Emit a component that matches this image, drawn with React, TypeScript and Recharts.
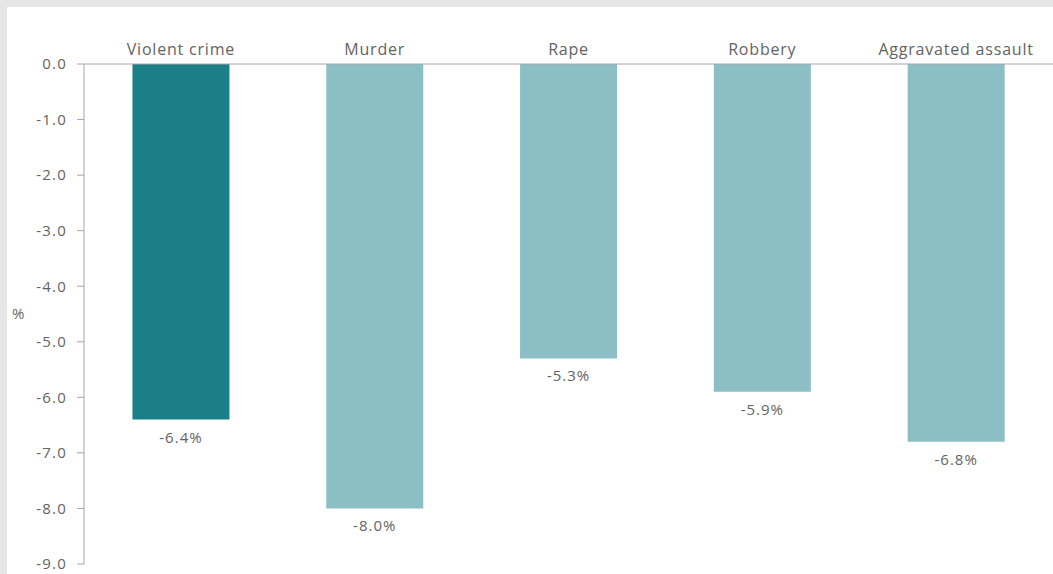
import { BarChart, Bar, XAxis, YAxis, Cell, LabelList } from "recharts";

// Change in violent crime rates, by offence (%)
const categories = ["Violent crime", "Murder", "Rape", "Robbery", "Aggravated assault"];
const changes = [-6.4, -8.0, -5.3, -5.9, -6.8];
const yTicks = [0, -1, -2, -3, -4, -5, -6, -7, -8, -9];
const bandEdges = [1, 2, 3, 4];

const DARK = "#1a7f87";
const LIGHT = "#8cbfc5";
const TEXT = "#636363";
const AXIS = "#a6a6a6";
const FONT = "'Open Sans', sans-serif";

const data = categories.map((name, i) => ({ name, value: changes[i] }));

// value label sits just under the end of each (negative) bar
const BarValue = (props: any) => {
  const { x, y, width, height, value } = props;
  const bottom = Math.max(y, y + height);
  return (
    <text
      x={x + width / 2}
      y={bottom + 23}
      textAnchor="middle"
      fill={TEXT}
      fontSize={15}
      letterSpacing={1}
      fontFamily={FONT}
    >
      {`${Number(value).toFixed(1)}%`}
    </text>
  );
};

export default function App() {
  return (
    <div style={{ position: "absolute", top: 0, left: 0, width: 1053, height: 574, background: "#e6e6e6", overflow: "hidden" }}>
      <div style={{ position: "absolute", top: 7, left: 7, width: 1046, height: 567, background: "#fff" }}>
        <BarChart
          width={1046}
          height={567}
          data={data}
          margin={{ top: 0, right: 0, bottom: 10, left: 0 }}
          barCategoryGap="25%"
        >
          <XAxis
            dataKey="name"
            orientation="top"
            height={57}
            tickLine={false}
            tickSize={0}
            tickMargin={9}
            axisLine={{ stroke: AXIS }}
            tick={{ fill: TEXT, fontSize: 16, fontFamily: FONT, letterSpacing: 0.8 }}
            interval={0}
          />
          <XAxis
            xAxisId="edges"
            type="number"
            orientation="top"
            domain={[0, 5]}
            ticks={bandEdges}
            height={0}
            mirror
            axisLine={false}
            tick={false}
            tickSize={5}
            tickLine={{ stroke: AXIS }}
            allowDataOverflow
          />
          <YAxis
            width={77}
            domain={[-9, 0]}
            ticks={yTicks}
            interval={0}
            tickSize={7}
            tickMargin={10}
            tickFormatter={(v: number) => v.toFixed(1)}
            tick={{ fill: TEXT, fontSize: 15, fontFamily: FONT, letterSpacing: 1.2 }}
            axisLine={{ stroke: AXIS }}
            tickLine={{ stroke: AXIS }}
            label={{ value: "%", position: "insideLeft", offset: 5, fill: TEXT, fontSize: 15, fontFamily: FONT }}
          />
          <Bar dataKey="value" isAnimationActive={false}>
            {data.map((d, i) => (
              <Cell key={d.name} fill={i === 0 ? DARK : LIGHT} />
            ))}
            <LabelList dataKey="value" content={BarValue} />
          </Bar>
        </BarChart>
      </div>
    </div>
  );
}
